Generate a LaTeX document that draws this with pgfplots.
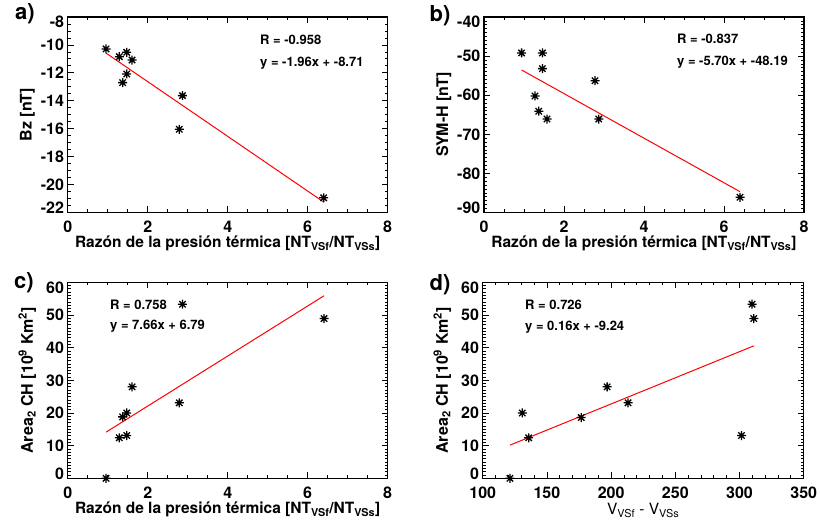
\documentclass[border=0pt]{standalone}
\usepackage{fontspec}
\setmainfont{TeX Gyre Heros}
\usepackage{pgfplots}
\pgfplotsset{compat=1.18}

\pgfdeclareplotmark{ast8}{%
  \pgfpathmoveto{\pgfqpoint{-\pgfplotmarksize}{0pt}}\pgfpathlineto{\pgfqpoint{\pgfplotmarksize}{0pt}}%
  \pgfpathmoveto{\pgfqpoint{0pt}{-\pgfplotmarksize}}\pgfpathlineto{\pgfqpoint{0pt}{\pgfplotmarksize}}%
  \pgfpathmoveto{\pgfqpoint{-0.707\pgfplotmarksize}{-0.707\pgfplotmarksize}}\pgfpathlineto{\pgfqpoint{0.707\pgfplotmarksize}{0.707\pgfplotmarksize}}%
  \pgfpathmoveto{\pgfqpoint{-0.707\pgfplotmarksize}{0.707\pgfplotmarksize}}\pgfpathlineto{\pgfqpoint{0.707\pgfplotmarksize}{-0.707\pgfplotmarksize}}%
  \pgfusepathqstroke}

\pgfplotsset{
  panel/.style={
    scale only axis, width=320pt, height=195.5pt,
    anchor=south west, clip=false,
    tick align=inside,
    axis line style={line width=1.2pt},
    tick style={black, line width=0.8pt},
    major tick length=6pt, minor tick length=3pt,
    ticklabel style={font=\fontsize{16}{19}\selectfont\bfseries},
    /pgf/number format/assume math mode=true,
    xticklabel style={inner sep=0pt, anchor=north, yshift=-8.5pt},
    yticklabel style={inner sep=0pt, anchor=east, xshift=-3.5pt},
    xlabel style={font=\fontsize{15.5}{18}\selectfont\bfseries, at={(axis description cs:0.5,-0.158)}, anchor=center, inner sep=0pt},
    ylabel style={font=\fontsize{16}{19}\selectfont\bfseries, at={(axis description cs:-0.126,0.5)}, anchor=center, inner sep=0pt, rotate=0},
    scaled ticks=false,
  },
  endshift/.style={yticklabel style={yshift={(\ticknum==0)*4.5-(\ticknum==#1)*5}}},
  pts/.style={only marks, mark=ast8, mark size=4.5pt, black, mark options={line width=1.3pt}},
  fit/.style={red, line width=1pt, no marks},
}

\begin{document}
\begin{tikzpicture}
\useasboundingbox (0pt,0pt) rectangle (820pt,523pt);

% ---------- a) ----------
\begin{axis}[panel, at={(67.7pt,310.5pt)},
  xmin=0, xmax=8, ymin=-22, ymax=-8,
  xtick={0,2,...,8}, ytick={-22,-20,...,-8}, endshift=7,
  minor x tick num=3, minor y tick num=3,
  xlabel={Razón de la presión térmica [NT\textsubscript{VSf}/NT\textsubscript{VSs}]},
  ylabel={Bz [nT]}]
\addplot[pts] coordinates {(0.96,-10.29) (1.29,-10.84) (1.475,-10.53) (1.61,-11.08) (1.475,-12.08) (1.375,-12.70) (2.87,-13.63) (2.79,-16.04) (6.40,-20.95)};
\addplot[fit] coordinates {(0.96,-10.59) (6.40,-21.25)};
\end{axis}

% ---------- b) ----------
\begin{axis}[panel, at={(484pt,310.5pt)},
  xmin=0, xmax=8, ymin=-90, ymax=-40,
  xtick={0,2,...,8}, ytick={-90,-80,...,-40}, endshift=5,
  minor x tick num=3, minor y tick num=9,
  xlabel={Razón de la presión térmica [NT\textsubscript{VSf}/NT\textsubscript{VSs}]},
  ylabel={SYM-H [nT]}]
\addplot[pts] coordinates {(0.94,-49.2) (1.46,-49.2) (1.46,-53.2) (1.275,-60.2) (1.37,-64.1) (1.575,-66.1) (2.775,-56.3) (2.87,-66.1) (6.40,-86.1)};
\addplot[fit] coordinates {(0.94,-53.55) (6.40,-84.67)};
\end{axis}

% ---------- c) ----------
\begin{axis}[panel, at={(67.7pt,44.7pt)}, height=196pt,
  xmin=0, xmax=8, ymin=0, ymax=60,
  xtick={0,2,...,8}, ytick={0,10,...,60}, endshift=6,
  minor x tick num=3, minor y tick num=9,
  xlabel={Razón de la presión térmica [NT\textsubscript{VSf}/NT\textsubscript{VSs}]},
  ylabel={Area\textsubscript{2} CH [10\textsuperscript{9} Km\textsuperscript{2}]}]
\addplot[pts] coordinates {(0.96,0.0) (1.29,12.4) (1.475,13.1) (1.375,18.8) (1.475,20.0) (1.61,28.0) (2.87,53.3) (2.79,23.1) (6.41,48.9)};
\addplot[fit] coordinates {(0.96,14.14) (6.41,55.89)};
\end{axis}

% ---------- d) ----------
\begin{axis}[panel, at={(482.7pt,44.7pt)}, height=196pt, width=321pt,
  xmin=100, xmax=350, ymin=0, ymax=60,
  xtick={100,150,...,350}, ytick={0,10,...,60}, endshift=6,
  minor x tick num=4, minor y tick num=9,
  xlabel={V\textsubscript{VSf} - V\textsubscript{VSs}},
  xlabel style={font=\fontsize{15.5}{18}\selectfont\mdseries, at={(axis description cs:0.5,-0.162)}},
  ylabel={Area\textsubscript{2} CH [10\textsuperscript{9} Km\textsuperscript{2}]},
  ylabel style={at={(axis description cs:-0.126,0.5)}}]
\addplot[pts] coordinates {(121.2,0.0) (130.8,20.0) (135.8,12.4) (176.7,18.6) (196.9,28.0) (213.2,23.1) (301.6,13.1) (309.8,53.3) (311.1,48.9)};
\addplot[fit] coordinates {(121.2,10.15) (311.1,40.54)};
\end{axis}

% panel labels
\node[font=\fontsize{22}{26}\selectfont\bfseries] at (25pt,509pt) {a)};
\node[font=\fontsize{22}{26}\selectfont\bfseries] at (440pt,507pt) {b)};
\node[font=\fontsize{22}{26}\selectfont\bfseries] at (24pt,240pt) {c)};
\node[font=\fontsize{22}{26}\selectfont\bfseries] at (440pt,238pt) {d)};

% statistics
\begin{scope}[every node/.style={anchor=west, inner sep=0pt, font=\fontsize{13}{15}\selectfont\bfseries}]
\node at (260pt,483pt) {R = -0.958};
\node at (260pt,460pt) {y = -1.96x + -8.71};
\node at (677pt,484pt) {R = -0.837};
\node at (677pt,461pt) {y = -5.70x + -48.19};
\node at (110pt,218.3pt) {R = 0.758};
\node at (110pt,197pt) {y = 7.66x + 6.79};
\node at (525pt,218pt) {R = 0.726};
\node at (525pt,196pt) {y = 0.16x + -9.24};
\end{scope}
\end{tikzpicture}
\end{document}
